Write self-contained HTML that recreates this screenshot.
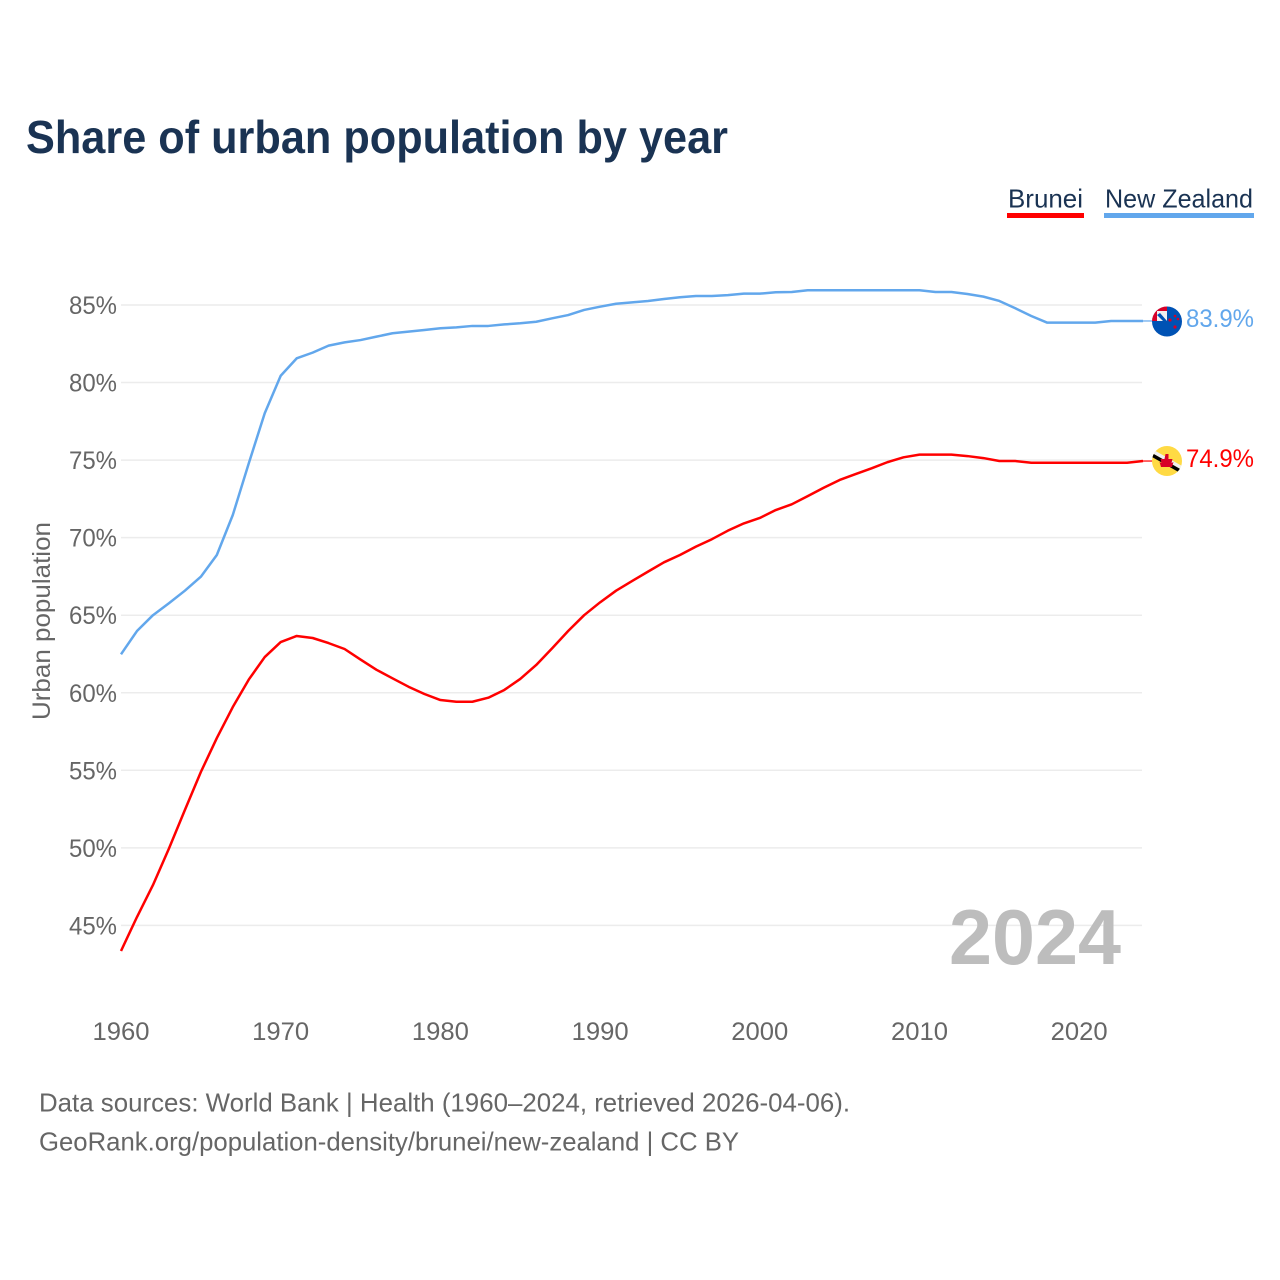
<!DOCTYPE html>
<html lang="en">
<head>
<meta charset="utf-8">
<title>Share of urban population by year</title>
<style>
html,body{margin:0;padding:0;background:#fff;width:1280px;height:1280px;overflow:hidden}
svg{display:block}
text{font-family:"Liberation Sans",sans-serif}
</style>
</head>
<body>
<svg id="chart" xmlns="http://www.w3.org/2000/svg" width="1280" height="1280" viewBox="0 0 1280 1280">
  <defs>
    <clipPath id="nz-clip"><circle cx="1167" cy="321.5" r="15"/></clipPath>
    <clipPath id="bn-clip"><circle cx="1167" cy="461" r="15"/></clipPath>
  </defs>
  <text x="26" y="153" font-size="46" font-weight="700" fill="#1a3353" textLength="702" lengthAdjust="spacingAndGlyphs">Share of urban population by year</text>

  <text x="1008" y="207.500" font-size="26" fill="#1a3353" textLength="75" lengthAdjust="spacingAndGlyphs">Brunei</text>
  <rect x="1007" y="213" width="77" height="5" fill="#ff0000"/>
  <text x="1105" y="207.500" font-size="26" fill="#1a3353" textLength="148" lengthAdjust="spacingAndGlyphs">New Zealand</text>
  <rect x="1104" y="213" width="150" height="5" fill="#62a7ec"/>

  <g id="grid"></g>
  <g id="y-ticks"></g>
  <g id="x-ticks"></g>

  <text transform="translate(50,621) rotate(-90)" text-anchor="middle" font-size="25" fill="#666666" textLength="198" lengthAdjust="spacingAndGlyphs">Urban population</text>

  <text x="949" y="964" font-size="78" font-weight="700" fill="#bdbdbd" textLength="172" lengthAdjust="spacingAndGlyphs">2024</text>

  <g id="series"></g>

  <g clip-path="url(#nz-clip)">
    <rect x="1152" y="306" width="30" height="31" fill="#0052b4"/>
    <path d="M1152 306h15v15h-15z" fill="#f0f0f0"/>
    <path d="M1152 306h15v5h-10v10h-5z" fill="#d80027"/>
    <path d="M1160 313l7 8h-4l-6-6z" fill="#0052b4"/>
    <path d="M1161 312l6 6v-6z" fill="#f0f0f0"/>
    <circle cx="1170" cy="320" r="1.600" fill="#d80027"/>
    <circle cx="1175" cy="316" r="1.300" fill="#d80027"/>
    <circle cx="1178" cy="319" r="1.300" fill="#d80027"/>
    <circle cx="1175" cy="327" r="1.600" fill="#d80027"/>
  </g>
  <g clip-path="url(#bn-clip)">
    <rect x="1152" y="446" width="30" height="30" fill="#ffda44"/>
    <path d="M1152 449L1182 466V470L1152 453z" fill="#f0f0f0"/>
    <path d="M1152 453L1182 470V474L1152 457z" fill="#000000"/>
    <path d="M1165.500 454h3v5h4l-1 4 2-1-1.500 5h-11l-1.500-5 2 1-1-4h4z" fill="#d80027"/>
  </g>

  <text x="1186" y="327" font-size="25" fill="#62a7ec" textLength="68" lengthAdjust="spacingAndGlyphs">83.9%</text>
  <text x="1186" y="467" font-size="25" fill="#ff0000" textLength="68" lengthAdjust="spacingAndGlyphs">74.9%</text>

  <text x="39" y="1111.500" font-size="26" fill="#666666" textLength="811" lengthAdjust="spacingAndGlyphs">Data sources: World Bank | Health (1960–2024, retrieved 2026-04-06).</text>
  <text x="39" y="1150.500" font-size="26" fill="#666666" textLength="700" lengthAdjust="spacingAndGlyphs">GeoRank.org/population-density/brunei/new-zealand | CC BY</text>
</svg>
<script>
var startYear = 1960;
var yTickValues = [45, 50, 55, 60, 65, 70, 75, 80, 85];
var xTickValues = [1960, 1970, 1980, 1990, 2000, 2010, 2020];
var bruneiValues = [43.35,45.54,47.6,49.95,52.44,54.89,57.08,59.08,60.85,62.3,63.27,63.66,63.53,63.2,62.82,62.14,61.48,60.93,60.39,59.92,59.53,59.42,59.42,59.68,60.18,60.89,61.79,62.87,63.98,65.0,65.83,66.58,67.2,67.81,68.41,68.88,69.42,69.9,70.45,70.92,71.27,71.78,72.15,72.68,73.22,73.72,74.1,74.47,74.87,75.18,75.35,75.35,75.35,75.26,75.13,74.94,74.94,74.83,74.83,74.83,74.83,74.83,74.83,74.83,74.94];
var newZealandValues = [62.48,63.98,65.0,65.77,66.58,67.48,68.88,71.46,74.79,78.02,80.44,81.56,81.93,82.38,82.59,82.74,82.96,83.18,83.28,83.39,83.5,83.56,83.65,83.65,83.75,83.82,83.92,84.14,84.35,84.68,84.89,85.08,85.17,85.26,85.39,85.5,85.58,85.58,85.64,85.73,85.73,85.82,85.84,85.95,85.95,85.95,85.95,85.95,85.95,85.95,85.95,85.84,85.84,85.71,85.54,85.26,84.79,84.29,83.86,83.86,83.86,83.86,83.97,83.97,83.97];

var NS = 'http://www.w3.org/2000/svg';
function xScale(year) { return 121 + (year - 1960) * 15.97; }
function yScale(pct) { return 305 + (85 - pct) * 15.51; }
function make(tag, attrs, parent) {
  var el = document.createElementNS(NS, tag);
  for (var k in attrs) el.setAttribute(k, attrs[k]);
  parent.appendChild(el);
  return el;
}

var gridG = document.getElementById('grid');
var yG = document.getElementById('y-ticks');
var xG = document.getElementById('x-ticks');
var seriesG = document.getElementById('series');

yTickValues.forEach(function (v) {
  var line = make('line', {x1: 121, x2: 1142, y1: yScale(v), y2: yScale(v), stroke: '#ececec', 'stroke-width': 1.5}, gridG);
  
  
  var t = make('text', {x: 69, y: yScale(v) + 9, 'font-size': 25, fill: '#666666', textLength: 48, lengthAdjust: 'spacingAndGlyphs'}, yG);
  t.textContent = v + '%';
  
  
});

xTickValues.forEach(function (v) {
  var t = make('text', {x: xScale(v) - 28.5, y: 1040, 'font-size': 25, fill: '#666666', textLength: 57, lengthAdjust: 'spacingAndGlyphs'}, xG);
  t.textContent = String(v);
  
  
});

function linePath(values) {
  return values.map(function (v, i) {
    return (i ? 'L' : 'M') + xScale(startYear + i).toFixed(2) + ' ' + yScale(v).toFixed(2);
  }).join('');
}

var nzLine = make('path', {d: linePath(newZealandValues), fill: 'none', stroke: '#62a7ec', 'stroke-width': 2.5, 'stroke-linejoin': 'round'}, seriesG);



var bnLine = make('path', {d: linePath(bruneiValues), fill: 'none', stroke: '#ff0000', 'stroke-width': 2.5, 'stroke-linejoin': 'round'}, seriesG);



var lastX = xScale(startYear + newZealandValues.length - 1);
var nzLast = yScale(newZealandValues[newZealandValues.length - 1]);
var bnLast = yScale(bruneiValues[bruneiValues.length - 1]);

var nzLead = make('line', {x1: lastX, x2: 1153, y1: nzLast, y2: nzLast, stroke: '#62a7ec', 'stroke-width': 1.2}, seriesG);



var bnLead = make('line', {x1: lastX, x2: 1153, y1: bnLast, y2: bnLast, stroke: '#ff0000', 'stroke-width': 1.2}, seriesG);


</script>
</body>
</html>
